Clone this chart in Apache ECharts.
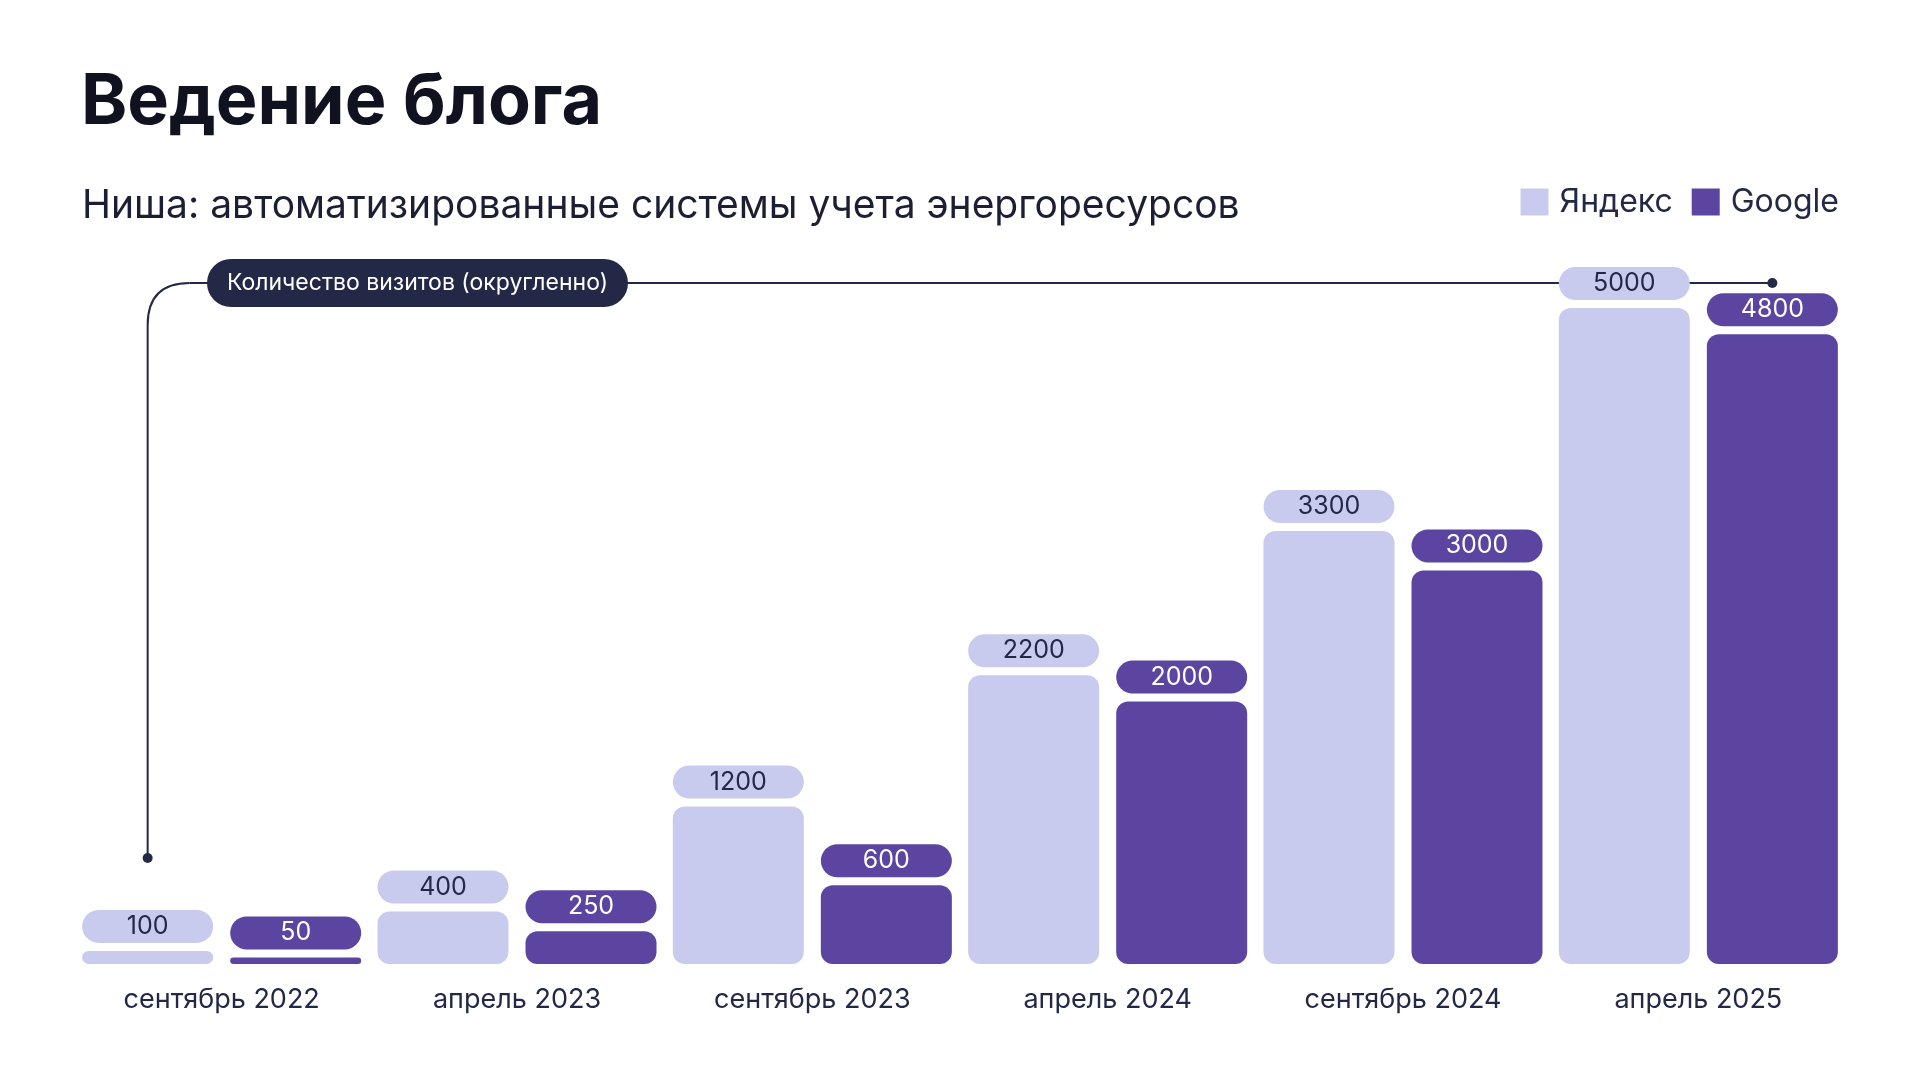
<!DOCTYPE html>
<html>
<head>
<meta charset="utf-8">
<script src="https://cdn.jsdelivr.net/npm/echarts@6/dist/echarts.min.js"></script>
<style>
html,body{margin:0;padding:0;background:#fff;}
#chart{width:1920px;height:1080px;}
</style>
</head>
<body>
<div id="chart"></div>
<script>
const categories = ['сентябрь 2022', 'апрель 2023', 'сентябрь 2023', 'апрель 2024', 'сентябрь 2024', 'апрель 2025'];
const yandexValues = [100, 400, 1200, 2200, 3300, 5000];
const googleValues = [50, 250, 600, 2000, 3000, 4800];
const seriesNames = ['Яндекс', 'Google'];
const titleText = 'Ведение блога';
const subtitleText = 'Ниша: автоматизированные системы учета энергоресурсов';
const annotationText = 'Количество визитов (округленно)';

const FONT = 'Inter, "Noto Sans", sans-serif';
const DARK = '#232846';
const LIGHT = '#C8CBEE';
const PURPLE = '#5C45A0';
const BAR_W = 131;

const chart = echarts.init(document.getElementById('chart'), null, {renderer: 'canvas'});

function labelStyle(bg, fg) {
  return {
    show: true,
    position: 'top',
    distance: 8,
    formatter: '{c}',
    width: BAR_W,
    height: 33,
    lineHeight: 33,
    align: 'center',
    backgroundColor: bg,
    borderRadius: 16.5,
    color: fg,
    fontSize: 25,
    fontFamily: FONT,
    padding: 0
  };
}

const option = {
  backgroundColor: '#ffffff',
  animation: false,
  title: [{
    text: titleText,
    left: 76,
    top: 62,
    textStyle: {fontFamily: FONT, fontSize: 70, fontWeight: 700, color: '#10121f', lineHeight: 71}
  }, {
    text: subtitleText,
    left: 77,
    top: 180,
    textStyle: {fontFamily: FONT, fontSize: 39, fontWeight: 400, color: '#1c1f33', lineHeight: 42}
  }],
  legend: {
    right: 76,
    top: 181,
    icon: 'rect',
    itemWidth: 28,
    itemHeight: 27,
    itemGap: 19,
    textStyle: {fontFamily: FONT, fontSize: 32, color: DARK, padding: [0, 0, 0, 6]},
    data: seriesNames
  },
  grid: {left: 74, right: 74, top: 308, bottom: 116, containLabel: false},
  xAxis: {
    type: 'category',
    data: categories,
    axisLine: {show: false},
    axisTick: {show: false},
    axisLabel: {fontFamily: FONT, fontSize: 27, color: DARK, margin: 22, lineHeight: 28}
  },
  yAxis: {
    type: 'value',
    min: 0,
    max: 5000,
    show: false,
    splitLine: {show: false}
  },
  series: [{
    name: seriesNames[0],
    type: 'bar',
    data: yandexValues,
    barWidth: BAR_W,
    barGap: '13%',
    itemStyle: {color: LIGHT, borderRadius: 12},
    label: labelStyle(LIGHT, DARK),
    z: 3
  }, {
    name: seriesNames[1],
    type: 'bar',
    data: googleValues,
    barWidth: BAR_W,
    itemStyle: {color: PURPLE, borderRadius: 12},
    label: labelStyle(PURPLE, '#ffffff'),
    z: 3
  }]
};
chart.setOption(option);

// annotation bracket computed from axis positions
const firstCenter = chart.convertToPixel({xAxisIndex: 0}, categories[0]);
const lastCenter = chart.convertToPixel({xAxisIndex: 0}, categories[categories.length - 1]);
const half = (BAR_W * 1.13) / 2;
const xL = firstCenter - half;
const xR = lastCenter + half;
const yDot = 858;
const yLine = 283;
const R = 42;
const pillX = 207, pillW = 421, pillH = 48;
const lineStyle = {stroke: DARK, lineWidth: 2, fill: null};

chart.setOption({
  graphic: [{
    type: 'line', z: 1,
    shape: {x1: xL, y1: yDot, x2: xL, y2: yLine + R},
    style: lineStyle
  }, {
    type: 'bezierCurve', z: 1,
    shape: {x1: xL, y1: yLine + R, cpx1: xL, cpy1: yLine, x2: xL + R, y2: yLine},
    style: lineStyle
  }, {
    type: 'line', z: 1,
    shape: {x1: xL + R, y1: yLine, x2: xR, y2: yLine},
    style: lineStyle
  }, {
    type: 'circle', z: 1,
    shape: {cx: xL, cy: yDot, r: 5},
    style: {fill: DARK}
  }, {
    type: 'circle', z: 1,
    shape: {cx: xR, cy: yLine, r: 5},
    style: {fill: DARK}
  }, {
    type: 'rect', z: 10,
    shape: {x: pillX, y: yLine - pillH / 2, width: pillW, height: pillH, r: pillH / 2},
    style: {fill: DARK}
  }, {
    type: 'text', z: 11,
    x: pillX + pillW / 2, y: yLine,
    style: {text: annotationText, fill: '#ffffff', font: '23px ' + FONT, align: 'center', verticalAlign: 'middle'}
  }]
});
</script>
</body>
</html>
